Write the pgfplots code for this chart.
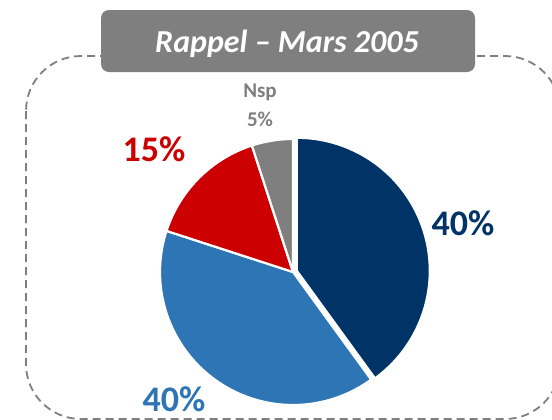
\documentclass[border=0pt]{standalone}
\usepackage{fontspec}
\setmainfont{Carlito}
\usepackage{pgfplots}
\usepackage{pgfplotstable}
\pgfplotsset{compat=1.18}
\definecolor{dblue}{RGB}{0,51,102}
\definecolor{lblue}{RGB}{46,117,182}
\definecolor{rred}{RGB}{204,0,0}
\definecolor{ggray}{RGB}{127,127,127}

\pgfplotstableread{
cat value
A 40
B 40
C 15
Nsp 5
}\piedata

% one pie slice: colour, start angle, end angle, shift x, shift y (pixel units)
\newcommand\slice[5]{%
  \addplot[fill=#1, draw=white, line width=2.2bp, line join=round, mark=none,
    variable=\t, samples at={-1,0,...,81}]
  ({293+(#4)+ifthenelse(or(\t<0,\t>80),0,133*cos((#2)+((#3)-(#2))*\t/80))},
   {272+(#5)-ifthenelse(or(\t<0,\t>80),0,133*sin((#2)+((#3)-(#2))*\t/80))});
}

\begin{document}
\begin{tikzpicture}
\pgfplotstablegetelem{0}{value}\of\piedata \pgfmathsetmacro\vA{\pgfplotsretval}
\pgfplotstablegetelem{1}{value}\of\piedata \pgfmathsetmacro\vB{\pgfplotsretval}
\pgfplotstablegetelem{2}{value}\of\piedata \pgfmathsetmacro\vC{\pgfplotsretval}
\pgfplotstablegetelem{3}{value}\of\piedata \pgfmathsetmacro\vD{\pgfplotsretval}
\pgfmathsetmacro\aA{90}
\pgfmathsetmacro\aB{\aA-3.6*\vA}
\pgfmathsetmacro\aC{\aB-3.6*\vB}
\pgfmathsetmacro\aD{\aC-3.6*\vC}
\pgfmathsetmacro\aE{\aD-3.6*\vD}
\pgfmathsetmacro\midA{(\aA+\aB)/2}
\pgfmathsetmacro\exA{4*cos(\midA)}
\pgfmathsetmacro\eyA{-4*sin(\midA)}
\begin{axis}[scale only axis, width=552bp, height=420bp,
  xmin=0, xmax=552, ymin=0, ymax=420, y dir=reverse,
  axis lines=none, ticks=none, clip=false]
  % dashed frame
  \draw[ggray, line width=1.8bp, dash pattern=on 8bp off 5bp, rounded corners=55bp]
    (axis cs:26,56) rectangle (axis cs:560,419);
  % title box
  \fill[ggray, rounded corners=8bp] (axis cs:101,10) rectangle (axis cs:475,72);
  \node[anchor=base, text=white, font=\fontsize{32bp}{38bp}\selectfont\bfseries\itshape, inner sep=0pt]
    at (axis cs:287,52) {Rappel – Mars 2005};
  % slices
  \slice{dblue}{\aA}{\aB}{\exA}{\eyA}
  \slice{lblue}{\aB}{\aC}{0}{0}
  \slice{rred}{\aC}{\aD}{0}{0}
  \slice{ggray}{\aD}{\aE}{0}{0}
  % labels
  \node[anchor=base, text=ggray, font=\fontsize{21bp}{25bp}\selectfont\bfseries, inner sep=0pt]
    at (axis cs:260,97) {Nsp};
  \node[anchor=base, text=ggray, font=\fontsize{21bp}{25bp}\selectfont\bfseries, inner sep=0pt]
    at (axis cs:260,126) {5\%};
  \node[anchor=base, text=rred, font=\fontsize{36bp}{42bp}\selectfont\bfseries, inner sep=0pt]
    at (axis cs:154,161) {15\%};
  \node[anchor=base, text=dblue, font=\fontsize{36bp}{42bp}\selectfont\bfseries, inner sep=0pt]
    at (axis cs:463,235) {40\%};
  \node[anchor=base, text=lblue, font=\fontsize{36bp}{42bp}\selectfont\bfseries, inner sep=0pt]
    at (axis cs:174,411) {40\%};
  \coordinate (BL) at (axis cs:0,420);
  \coordinate (TR) at (axis cs:552,0);
\end{axis}
\pgfresetboundingbox
\useasboundingbox (BL) rectangle (TR);
\end{tikzpicture}
\end{document}
